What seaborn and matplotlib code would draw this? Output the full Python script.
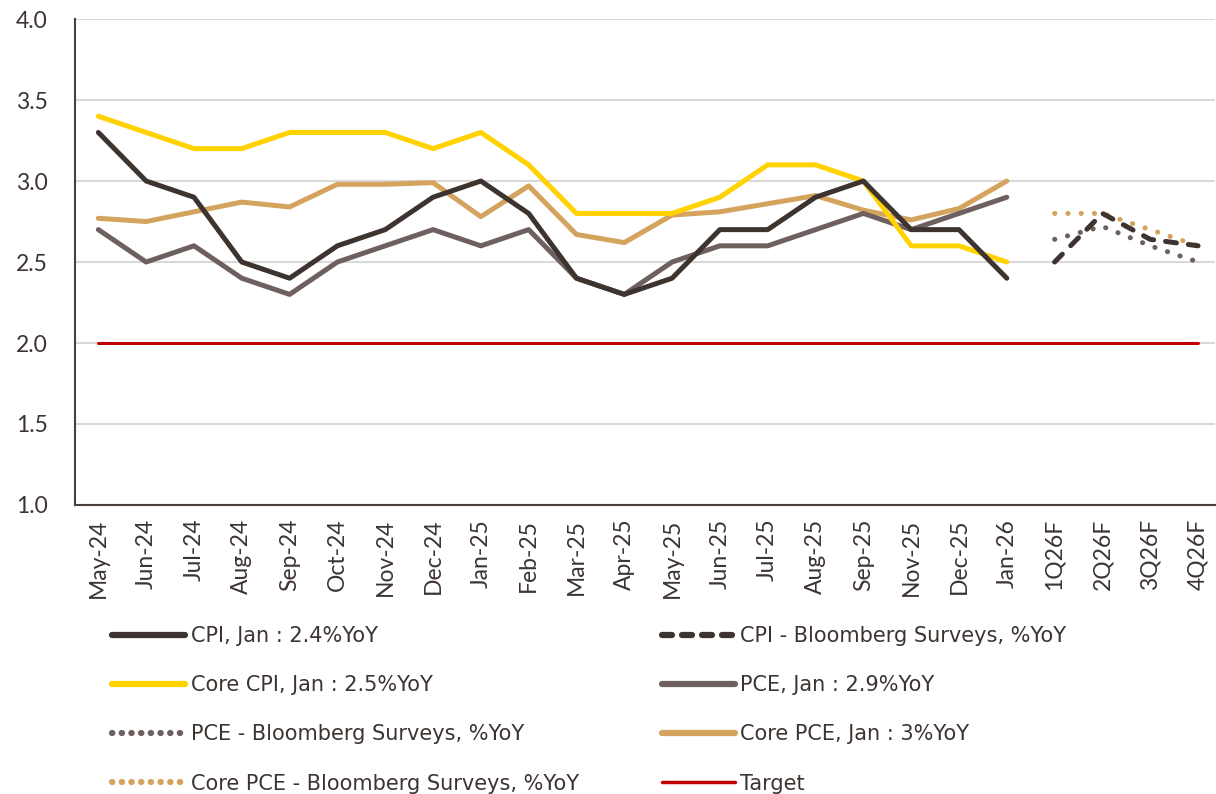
import numpy as np
import pandas as pd
import seaborn as sns
import matplotlib.pyplot as plt
from matplotlib.lines import Line2D

# categorias del eje x (Oct-25 no se publico)
meses = ["May-24", "Jun-24", "Jul-24", "Aug-24", "Sep-24", "Oct-24", "Nov-24", "Dec-24",
         "Jan-25", "Feb-25", "Mar-25", "Apr-25", "May-25", "Jun-25", "Jul-25", "Aug-25",
         "Sep-25", "Nov-25", "Dec-25", "Jan-26"]
trimestres = ["1Q26F", "2Q26F", "3Q26F", "4Q26F"]
etiquetas = meses + trimestres

cpi = [3.3, 3.0, 2.9, 2.5, 2.4, 2.6, 2.7, 2.9, 3.0, 2.8, 2.4, 2.3, 2.4, 2.7, 2.7, 2.9, 3.0, 2.7, 2.7, 2.4]
core_cpi = [3.4, 3.3, 3.2, 3.2, 3.3, 3.3, 3.3, 3.2, 3.3, 3.1, 2.8, 2.8, 2.8, 2.9, 3.1, 3.1, 3.0, 2.6, 2.6, 2.5]
pce = [2.7, 2.5, 2.6, 2.4, 2.3, 2.5, 2.6, 2.7, 2.6, 2.7, 2.4, 2.3, 2.5, 2.6, 2.6, 2.7, 2.8, 2.7, 2.8, 2.9]
core_pce = [2.77, 2.75, 2.81, 2.87, 2.84, 2.98, 2.98, 2.99, 2.78, 2.97, 2.67, 2.62, 2.79, 2.81, 2.86, 2.91,
            2.82, 2.76, 2.83, 3.0]

cpi_bbg = [2.5, 2.8, 2.64, 2.6]
pce_bbg = [2.64, 2.72, 2.6, 2.5]
core_pce_bbg = [2.8, 2.8, 2.7, 2.6]
objetivo = 2.0

x_mes = np.arange(len(meses))
x_trim = np.arange(len(meses), len(etiquetas))
x_todo = np.arange(len(etiquetas))

sns.set_theme(style="white")
plt.rcParams['font.family'] = ['Lato', 'DejaVu Sans']
texto = "#3d3431"

fig, ax = plt.subplots(figsize=(12.16, 7.94), dpi=100)
fig.subplots_adjust(left=0.062, right=0.999, top=0.976, bottom=0.364)

oscuro = "#3e342f"
amarillo = "#ffd200"
gris = "#6f6060"
tostado = "#d4a45f"
rojo = "#c00000"

lw = 3.6
sns.lineplot(x=x_todo, y=[objetivo] * len(x_todo), color=rojo, lw=2.2, ax=ax)
sns.lineplot(x=x_mes, y=core_pce, color=tostado, lw=lw, ax=ax)
sns.lineplot(x=x_mes, y=pce, color=gris, lw=lw, ax=ax)
sns.lineplot(x=x_mes, y=core_cpi, color=amarillo, lw=lw, ax=ax)
sns.lineplot(x=x_mes, y=cpi, color=oscuro, lw=lw, ax=ax)

punteado = (0, (0.05, 2.6))
sns.lineplot(x=x_trim, y=core_pce_bbg, color=tostado, lw=lw, ax=ax,
             linestyle=punteado, dash_capstyle="round")
sns.lineplot(x=x_trim, y=pce_bbg, color=gris, lw=lw, ax=ax,
             linestyle=punteado, dash_capstyle="round")
sns.lineplot(x=x_trim, y=cpi_bbg, color=oscuro, lw=lw, ax=ax,
             linestyle=(0, (2.2, 2.4)), dash_capstyle="round")

ax.set_xlim(-0.48, len(etiquetas) - 0.65)
ax.set_ylim(1.0, 4.0)
ax.set_yticks(np.arange(1.0, 4.01, 0.5))
ax.set_yticklabels([f"{v:.1f}" for v in np.arange(1.0, 4.01, 0.5)])
ax.set_xticks(x_todo)
ax.set_xticklabels(etiquetas, rotation=90)
ax.tick_params(axis="both", labelsize=16.5, colors=texto, length=0)
ax.tick_params(axis="x", pad=10)
ax.tick_params(axis="y", pad=43)
for lab in ax.get_yticklabels():
    lab.set_horizontalalignment("left")
ax.grid(axis="y", color="#d9d9d9", lw=1.5)
ax.set_axisbelow(True)
for s in ["top", "right"]:
    ax.spines[s].set_visible(False)
ax.spines["left"].set_color("#4a403c")
ax.spines["bottom"].set_color("#4a403c")
ax.spines["left"].set_linewidth(1.5)
ax.spines["bottom"].set_linewidth(1.5)
ax.set_xlabel("")
ax.set_ylabel("")

# leyenda (relleno por columnas)
h = [
    Line2D([], [], color=oscuro, lw=4.5),
    Line2D([], [], color=amarillo, lw=4.5),
    Line2D([], [], color=gris, lw=4.5, linestyle=(0, (0.05, 1.5)), dash_capstyle="round"),
    Line2D([], [], color=tostado, lw=4.5, linestyle=(0, (0.05, 1.5)), dash_capstyle="round"),
    Line2D([], [], color=oscuro, lw=4.5, linestyle=(0, (1.6, 1.6)), dash_capstyle="round"),
    Line2D([], [], color=gris, lw=4.5),
    Line2D([], [], color=tostado, lw=4.5),
    Line2D([], [], color=rojo, lw=2.5),
]
nombres = [
    "CPI, Jan : 2.4%YoY",
    "Core CPI, Jan : 2.5%YoY",
    "PCE - Bloomberg Surveys, %YoY",
    "Core PCE - Bloomberg Surveys, %YoY",
    "CPI - Bloomberg Surveys, %YoY",
    "PCE, Jan : 2.9%YoY",
    "Core PCE, Jan : 3%YoY",
    "Target",
]
leg = fig.legend(h, nombres, ncol=2, loc="upper left", bbox_to_anchor=(0.077, 0.235),
                 frameon=False, handlelength=3.5, handletextpad=0.25,
                 labelspacing=1.4, columnspacing=4.0,
                 prop={"family": ["DejaVu Sans"], "size": 15})
for t in leg.get_texts():
    t.set_color(texto)

plt.savefig("out.png", dpi=100)
